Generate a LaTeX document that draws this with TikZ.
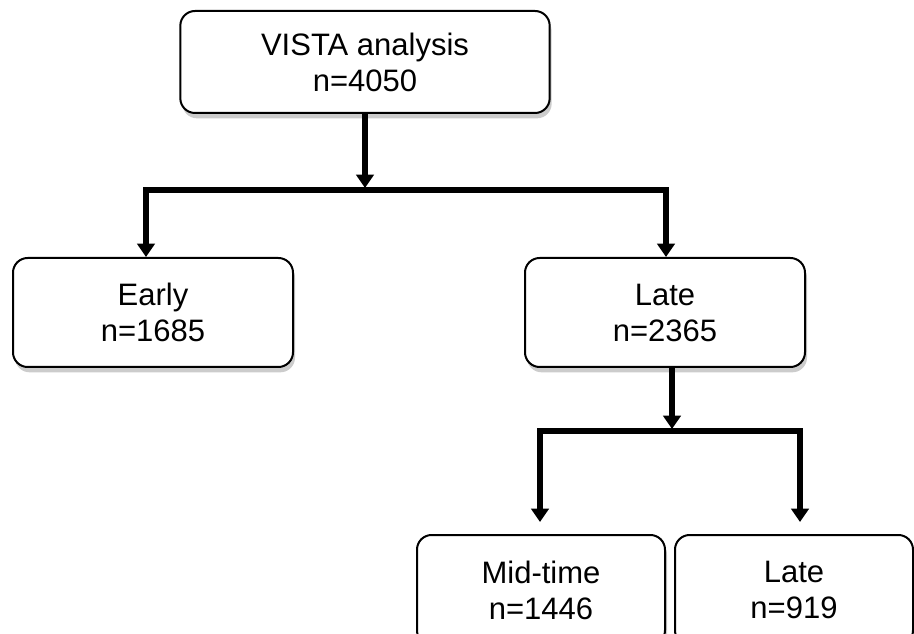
\documentclass[tikz,border=0pt]{standalone}
\usepackage{fontspec}
\setmainfont{Liberation Sans}
\usetikzlibrary{shapes,arrows.meta,shadows}
\tikzstyle{block} = [rectangle, draw, fill=white, line width=1.5pt,
    rounded corners=11pt, align=center, font=\fontsize{23.25}{27}\selectfont,
    minimum width=210pt, minimum height=81.75pt,
    drop shadow={shadow xshift=1.5pt, shadow yshift=-4pt, fill=black!40}]
\tikzstyle{line} = [draw, line width=4pt, -{Triangle[width=13pt,length=10pt]}]
\tikzstyle{fork} = [draw, line width=4pt,
    {Triangle[width=13pt,length=10pt]}-{Triangle[width=13pt,length=10pt]}]

\begin{document}
\begin{tikzpicture}[x=0.75pt, y=-0.75pt]
 \useasboundingbox (0,0) rectangle (914,634);
 % Place nodes
    \node [block, minimum width=277pt, minimum height=76.5pt] (vista) at (365,62)
        {VISTA analysis\\n=4050};
    \node [block] (early) at (153,312.5) {Early\\n=1685};
    \node [block] (late) at (665,312.5) {Late\\n=2365};
    \node [block, minimum width=186pt, minimum height=82.5pt] (midtime) at (541,590)
        {Mid-time\\n=1446};
    \node [block, minimum width=178.5pt, minimum height=82.5pt] (latelate) at (794,590)
        {Late\\n=919};
    \coordinate (forkA) at (365,188);
    \coordinate (forkAL) at (146,190);
    \coordinate (forkAR) at (666,190);
    \coordinate (forkB) at (672,429);
    \coordinate (forkBL) at (540,431);
    \coordinate (forkBR) at (800,431);

    % Draw edges
   \path [line] (vista) -- (forkA);
   \path [fork] (forkAL |- early.north) |- (forkAR) -- (forkAR |- late.north);
   \path [line] (forkB |- late.south) -- (forkB);
   \path [fork, shorten <=9pt, shorten >=9pt] (forkBL |- midtime.north) |- (forkBR)
       -- (forkBR |- latelate.north);
\end{tikzpicture}
\end{document}
